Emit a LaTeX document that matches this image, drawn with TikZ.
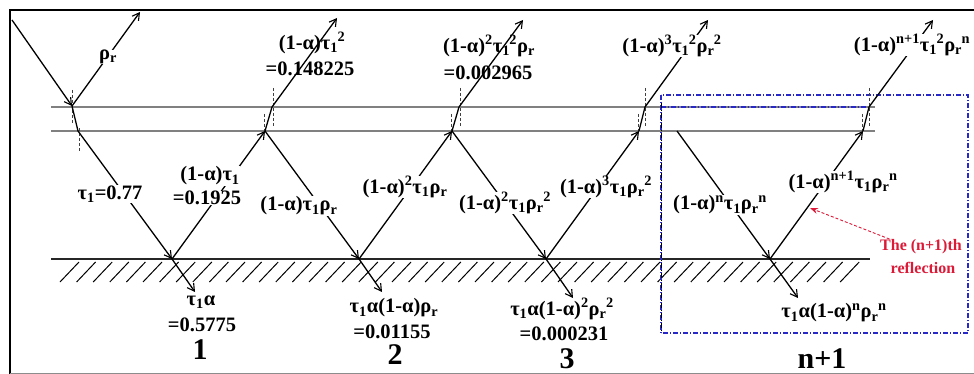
\documentclass[tikz,border=0pt]{standalone}
\usepackage{fontspec}
\setmainfont{Liberation Serif}
\usetikzlibrary{arrows.meta}
\newcommand\sbx[1]{\textsubscript{#1}}
\newcommand\spx[1]{\textsuperscript{#1}}
\newcommand\sbsp[2]{\textsubscript{#1}\kern-0.5pt\textsuperscript{#2}}
\definecolor{boxblue}{RGB}{40,40,200}
\definecolor{redlab}{RGB}{220,25,55}
\begin{document}
\begin{tikzpicture}[x=1pt,y=-1pt,
  ray/.style={line width=1.3pt, black},
  tip/.style={-{Straight Barb[length=7pt,width=8pt,line width=1.1pt]}},
  lab/.style={font=\fontsize{20.5}{22}\selectfont\bfseries, inner sep=0pt},
  labw/.style={lab, fill=white, inner sep=0.5pt},
  big/.style={font=\fontsize{30}{32}\selectfont\bfseries, inner sep=0pt},
  glass/.style={line width=1.6pt, black!50},
  nrm/.style={line width=0.6pt, densely dashed, black!75},
  blueb/.style={line width=1.1pt, boxblue, dash pattern=on 5pt off 2pt on 1pt off 2pt},
  ]
\useasboundingbox (0,0) rectangle (974,374);
% frame
\draw[line width=2pt] (10,374) -- (10,10) -- (976,10);
\draw[line width=1pt, black!45] (10,373) -- (976,373);

% glass plate
\draw[glass] (51,107) -- (875,107);
\draw[glass] (51,131) -- (875,131);
% ground
\draw[line width=1.4pt, black!85] (51,259) -- (870,259);
\foreach \i in {0,...,47} \draw[line width=1pt] ({60+16.6*\i},282) -- ++(19,-20);

% blue box
\draw[blueb] (661,95) rectangle (968,333);
\draw[blueb] (661,107) -- (866,107);
\draw[line width=1pt, black, dash pattern=on 5pt off 2pt on 1pt off 2pt] (661,103) -- (661,333);

% coordinates
\coordinate (s) at (12,20);
\coordinate (t0) at (72,106); \coordinate (b0) at (78,131); \coordinate (r0) at (140,12);
\coordinate (g1) at (172,259); \coordinate (u1) at (195,292);
\coordinate (b1) at (265,131); \coordinate (t1) at (272,107); \coordinate (e1) at (337,18);
\coordinate (g2) at (359,259); \coordinate (u2) at (382,292);
\coordinate (b2) at (452,131); \coordinate (t2) at (459,107); \coordinate (e2) at (523,20);
\coordinate (g3) at (546,259); \coordinate (u3) at (573,298);
\coordinate (b3) at (639,131); \coordinate (t3) at (645,107); \coordinate (e3) at (708,20);
\coordinate (bn) at (677,131); \coordinate (gn) at (770,259); \coordinate (un) at (798,298);
\coordinate (bm) at (863,131); \coordinate (tm) at (869,107); \coordinate (em) at (933,20);

% normals
\draw[nrm] (72,90) -- (72,124);
\draw[nrm] (79,128) -- (79,152);
\foreach \x in {273,460,645,869} \draw[nrm] (\x,88) -- (\x,126);
\foreach \x in {264,451,638,862} \draw[nrm] (\x,114) -- (\x,134);

% rays
\draw[ray,tip] (s) -- (t0);
\draw[ray] (t0) -- (b0);
\draw[ray,tip] (t0) -- (r0);
\draw[ray,tip] (b0) -- (g1);
\draw[ray,tip] (g1) -- (u1);
\draw[ray,tip] (g1) -- (b1);
\draw[ray] (b1) -- (t1);
\draw[ray,tip] (t1) -- (e1);
\draw[ray,tip] (b1) -- (g2);
\draw[ray,tip] (g2) -- (u2);
\draw[ray,tip] (g2) -- (b2);
\draw[ray] (b2) -- (t2);
\draw[ray,tip] (t2) -- (e2);
\draw[ray,tip] (b2) -- (g3);
\draw[ray,tip] (g3) -- (u3);
\draw[ray,tip] (g3) -- (b3);
\draw[ray] (b3) -- (t3);
\draw[ray,tip] (t3) -- (e3);
\draw[ray,tip] (bn) -- (gn);
\draw[ray,tip] (gn) -- (un);
\draw[ray,tip] (gn) -- (bm);
\draw[ray] (bm) -- (tm);
\draw[ray,tip] (tm) -- (em);

% labels
\node[labw] (lrho) at (108,57) {ρ\sbx{r}};
\node[labw] (lt1) at (110,194) {τ\sbx{1}=0.77};
\node[labw] (la1) at (210,176) {(1-α)τ\sbx{1}};
\node[labw] (lv1) at (207,198) {=0.1925};
\node[lab] (lc1) at (312,43) {(1-α)τ\sbsp{1}{2}};
\node[lab] (ld1) at (310,69) {=0.148225};
\node[labw] (lb1) at (299,206) {(1-α)τ\sbx{1}ρ\sbx{r}};
\node[labw] (la2) at (405,187) {(1-α)\spx{2}τ\sbx{1}ρ\sbx{r}};
\node[lab] (lc2) at (489,46) {(1-α)\spx{2}τ\sbsp{1}{2}ρ\sbx{r}};
\node[lab] (ld2) at (488,73) {=0.002965};
\node[labw] (lb2) at (505,203) {(1-α)\spx{2}τ\sbx{1}ρ\sbsp{r}{2}};
\node[labw] (la3) at (606,187) {(1-α)\spx{3}τ\sbx{1}ρ\sbsp{r}{2}};
\node[labw] (lc3) at (672,46) {(1-α)\spx{3}τ\sbsp{1}{2}ρ\sbsp{r}{2}};
\node[labw] (lbn) at (720,205) {(1-α)\spx{n}τ\sbx{1}ρ\sbsp{r}{n}};
\node[labw] (lan) at (843,182) {(1-α)\spx{n+1}τ\sbx{1}ρ\sbsp{r}{n}};
\node[labw] (lcn) at (912,45) {(1-α)\spx{n+1}τ\sbsp{1}{2}ρ\sbsp{r}{n}};

\node[lab] (g1a) at (201,302) {τ\sbx{1}α};
\node[lab] (g1b) at (202,325) {=0.5775};
\node[big] (n1) at (200,350) {1};
\node[lab] (g2a) at (394,308) {τ\sbx{1}α(1-α)ρ\sbx{r}};
\node[lab] (g2b) at (392,332) {=0.01155};
\node[big] (n2) at (395,355) {2};
\node[lab] (g3a) at (562,309) {τ\sbx{1}α(1-α)\spx{2}ρ\sbsp{r}{2}};
\node[lab] (g3b) at (564,334) {=0.000231};
\node[big] (n3) at (567,359) {3};
\node[lab] (gna) at (834,313) {τ\sbx{1}α(1-α)\spx{n}ρ\sbsp{r}{n}};
\node[big] (nn) at (822,359) {n+1};

% red annotation
\node[font=\fontsize{16}{18}\selectfont\bfseries, text=redlab, inner sep=0.5pt] (refl) at (921,247) {The (n+1)th};
\node[font=\fontsize{16}{18}\selectfont\bfseries, text=redlab, inner sep=0.5pt] (refl2) at (923,268) {reflection};
\coordinate (rt) at (810,208);
\draw[redlab, line width=0.9pt, densely dashed, -{Stealth[length=8pt,width=6pt]}] ([xshift=10pt]refl.north west) -- (rt);
\end{tikzpicture}
\end{document}
